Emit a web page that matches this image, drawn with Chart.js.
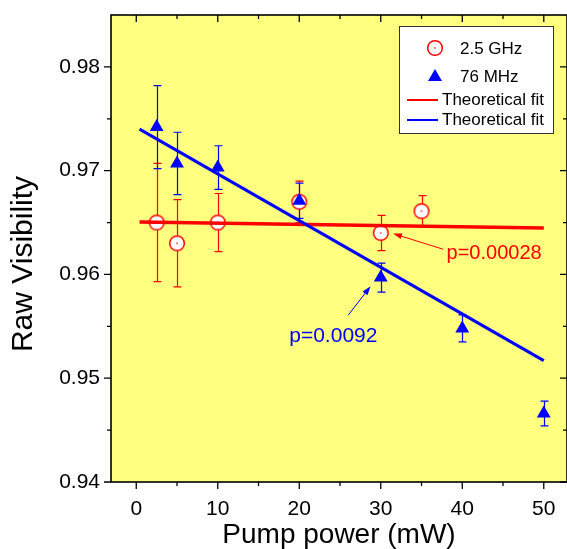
<!DOCTYPE html>
<html>
<head>
<meta charset="utf-8">
<script src="https://cdn.jsdelivr.net/npm/chart.js@4.4.0/dist/chart.umd.min.js"></script>
<style>
  body { margin: 0; background: #fff; }
  #wrap { width: 567px; height: 549px; }
</style>
</head>
<body>
<div id="wrap"><canvas id="visChart" width="567" height="549"></canvas></div>
<script>
const FONT = 'Arial, "Liberation Sans", sans-serif';
const RED = '#ff0000';
const BLUE = '#0000ff';

// 76 MHz source
const power76 = [2.5, 5, 10, 20, 30, 40, 50];
const vis76 = [0.9742, 0.9707, 0.9703, 0.9671, 0.9597, 0.9548, 0.9466];
const err76 = [0.0040, 0.0030, 0.0021, 0.0017, 0.0014, 0.0013, 0.0012];

// 2.5 GHz source
const power25 = [2.5, 5, 10, 20, 30, 35];
const vis25 = [0.9650, 0.9630, 0.9650, 0.9670, 0.9640, 0.9661];
const err25 = [0.0057, 0.0042, 0.0028, 0.0020, 0.0017, 0.0015];

// theoretical fits (end points)
const fitX = [0.4, 50];
const fit25 = [0.96506, 0.96448];
const fit76 = [0.9740, 0.9517];

const xTickValues = [0, 10, 20, 30, 40, 50];
const xMinorValues = [5, 15, 25, 35, 45];
const yTickValues = [0.94, 0.95, 0.96, 0.97, 0.98];
const yMinorValues = [0.945, 0.955, 0.965, 0.975];

const legendLabels = ['2.5 GHz', '76 MHz', 'Theoretical fit', 'Theoretical fit'];

// p-value notes, text anchor and arrow in data units
const notes = [
  { text: 'p=0.00028', color: RED, size: 20, at: [38.07, 0.96153], tail: [37.65, 0.96243], head: [31.5, 0.96394] },
  { text: 'p=0.0092', color: BLUE, size: 21, at: [18.77, 0.95349], tail: [26.0, 0.95607], head: [28.75, 0.95886] }
];

// open circle with a dot in the middle
const circleMark = document.createElement('canvas');
circleMark.width = 18;
circleMark.height = 18;
(() => {
  const c = circleMark.getContext('2d');
  c.beginPath();
  c.arc(9, 9, 7.3, 0, Math.PI * 2);
  c.fillStyle = '#fff';
  c.fill();
  c.lineWidth = 1.5;
  c.strokeStyle = RED;
  c.stroke();
  c.fillStyle = RED;
  c.fillRect(8.3, 8.3, 1.4, 1.4);
})();

const toPoints = (xs, ys) => xs.map((x, i) => ({ x: x, y: ys[i] }));

const errorBars = {
  id: 'errorBars',
  beforeDatasetsDraw(chart) {
    const { ctx, scales: { x, y } } = chart;
    const sets = [[power25, vis25, err25, RED], [power76, vis76, err76, BLUE]];
    ctx.save();
    ctx.lineWidth = 1.2;
    sets.forEach(([xs, ys, es, col]) => {
      ctx.strokeStyle = col;
      xs.forEach((v, i) => {
        const px = Math.round(x.getPixelForValue(v)) + 0.5;
        const top = y.getPixelForValue(ys[i] + es[i]);
        const bot = y.getPixelForValue(ys[i] - es[i]);
        ctx.beginPath();
        ctx.moveTo(px, top); ctx.lineTo(px, bot);
        ctx.moveTo(px - 4, top); ctx.lineTo(px + 4, top);
        ctx.moveTo(px - 4, bot); ctx.lineTo(px + 4, bot);
        ctx.stroke();
      });
    });
    ctx.restore();
  }
};

const frameAndText = {
  id: 'frameAndText',
  beforeDraw(chart) {
    const { ctx, chartArea: a } = chart;
    ctx.save();
    ctx.fillStyle = '#ffff80';
    ctx.fillRect(a.left, a.top, a.right - a.left, a.bottom - a.top);
    ctx.restore();
  },
  afterDraw(chart) {
    const { ctx, chartArea: a, scales: { x, y } } = chart;
    ctx.save();
    // frame
    ctx.strokeStyle = '#000';
    ctx.lineWidth = 1.6;
    ctx.strokeRect(a.left, a.top, a.right - a.left, a.bottom - a.top);

    // ticks: out on bottom/left, in on top/right
    ctx.lineWidth = 1.3;
    ctx.beginPath();
    const xt = (vals, len) => vals.forEach(v => {
      const px = x.getPixelForValue(v);
      ctx.moveTo(px, a.bottom); ctx.lineTo(px, a.bottom + len);
      ctx.moveTo(px, a.top); ctx.lineTo(px, a.top + len);
    });
    const yt = (vals, len) => vals.forEach(v => {
      const py = y.getPixelForValue(v);
      ctx.moveTo(a.left, py); ctx.lineTo(a.left - len, py);
      ctx.moveTo(a.right, py); ctx.lineTo(a.right - len, py);
    });
    xt(xTickValues, 7); xt(xMinorValues, 4);
    yt(yTickValues, 7); yt(yMinorValues, 4);
    ctx.stroke();

    // axis titles
    ctx.fillStyle = '#000';
    ctx.font = '28px ' + FONT;
    ctx.textAlign = 'center';
    ctx.textBaseline = 'alphabetic';
    ctx.fillText('Pump power (mW)', (a.left + a.right) / 2, 543);
    ctx.save();
    ctx.translate(32, 264);
    ctx.rotate(-Math.PI / 2);
    ctx.font = '30px ' + FONT;
    ctx.fillText('Raw Visibility', 0, 0);
    ctx.restore();

    // p-value notes with arrows
    notes.forEach(n => {
      const hx = x.getPixelForValue(n.head[0]), hy = y.getPixelForValue(n.head[1]);
      const tx = x.getPixelForValue(n.tail[0]), ty = y.getPixelForValue(n.tail[1]);
      const ang = Math.atan2(hy - ty, hx - tx);
      ctx.strokeStyle = n.color;
      ctx.fillStyle = n.color;
      ctx.lineWidth = 1;
      ctx.beginPath();
      ctx.moveTo(tx, ty);
      ctx.lineTo(hx - 6 * Math.cos(ang), hy - 6 * Math.sin(ang));
      ctx.stroke();
      ctx.beginPath();
      ctx.moveTo(hx, hy);
      ctx.lineTo(hx - 9 * Math.cos(ang) + 3 * Math.sin(ang), hy - 9 * Math.sin(ang) - 3 * Math.cos(ang));
      ctx.lineTo(hx - 9 * Math.cos(ang) - 3 * Math.sin(ang), hy - 9 * Math.sin(ang) + 3 * Math.cos(ang));
      ctx.closePath();
      ctx.fill();
      ctx.font = n.size + 'px ' + FONT;
      ctx.textAlign = 'left';
      ctx.fillText(n.text, x.getPixelForValue(n.at[0]), y.getPixelForValue(n.at[1]));
    });

    // legend box
    const lx = 399, ly = 26, lw = 154, lh = 107;
    ctx.fillStyle = '#fff';
    ctx.fillRect(lx, ly, lw, lh);
    ctx.strokeStyle = '#333';
    ctx.lineWidth = 1;
    ctx.strokeRect(lx + 0.5, ly + 0.5, lw, lh);
    ctx.drawImage(circleMark, 435 - 9, 48 - 9);
    ctx.fillStyle = BLUE;
    ctx.beginPath();
    ctx.moveTo(435, 69); ctx.lineTo(442, 81); ctx.lineTo(428, 81); ctx.closePath();
    ctx.fill();
    ctx.lineWidth = 2;
    ctx.strokeStyle = RED;
    ctx.beginPath(); ctx.moveTo(407, 100); ctx.lineTo(438, 100); ctx.stroke();
    ctx.strokeStyle = BLUE;
    ctx.beginPath(); ctx.moveTo(407, 120); ctx.lineTo(438, 120); ctx.stroke();
    ctx.fillStyle = '#000';
    ctx.font = '17px ' + FONT;
    ctx.textAlign = 'left';
    ctx.textBaseline = 'middle';
    ctx.fillText(legendLabels[0], 460, 49);
    ctx.fillText(legendLabels[1], 460, 77);
    ctx.fillText(legendLabels[2], 442, 100);
    ctx.fillText(legendLabels[3], 442, 120);
    ctx.restore();
  }
};

Chart.defaults.font.family = FONT;
Chart.defaults.color = '#000';

new Chart(document.getElementById('visChart'), {
  type: 'scatter',
  data: {
    datasets: [
      {
        label: 'Theoretical fit (76 MHz)',
        data: toPoints(fitX, fit76),
        showLine: true,
        borderColor: BLUE,
        borderWidth: 3,
        pointRadius: 0,
        order: 0
      },
      {
        label: 'Theoretical fit (2.5 GHz)',
        data: toPoints(fitX, fit25),
        showLine: true,
        borderColor: RED,
        borderWidth: 3.5,
        pointRadius: 0,
        order: 1
      },
      {
        label: '76 MHz',
        data: toPoints(power76, vis76),
        pointStyle: 'triangle',
        pointRadius: 8,
        backgroundColor: BLUE,
        borderColor: BLUE,
        borderWidth: 0,
        order: 2
      },
      {
        label: '2.5 GHz',
        data: toPoints(power25, vis25),
        pointStyle: circleMark,
        pointRadius: 8,
        order: 3
      }
    ]
  },
  options: {
    responsive: false,
    animation: false,
    layout: { autoPadding: false, padding: { top: 15, right: 0, left: 0, bottom: 0 } },
    plugins: { legend: { display: false }, tooltip: { enabled: false } },
    scales: {
      x: {
        type: 'linear',
        min: -3.1,
        max: 52.85,
        afterFit: s => { s.height = 67; s.paddingLeft = 0; s.paddingRight = 0; },
        afterBuildTicks: s => { s.ticks = xTickValues.map(v => ({ value: v })); },
        grid: { display: false, drawTicks: false },
        border: { display: false },
        ticks: { padding: 15, font: { size: 21 }, color: '#000' }
      },
      y: {
        type: 'linear',
        min: 0.94,
        max: 0.985,
        afterFit: s => { s.width = 111; s.paddingTop = 0; s.paddingBottom = 0; },
        afterBuildTicks: s => { s.ticks = yTickValues.map(v => ({ value: v })); },
        grid: { display: false, drawTicks: false },
        border: { display: false },
        ticks: { padding: 11, font: { size: 21 }, color: '#000', callback: v => v.toFixed(2) }
      }
    }
  },
  plugins: [errorBars, frameAndText]
});
</script>
</body>
</html>
